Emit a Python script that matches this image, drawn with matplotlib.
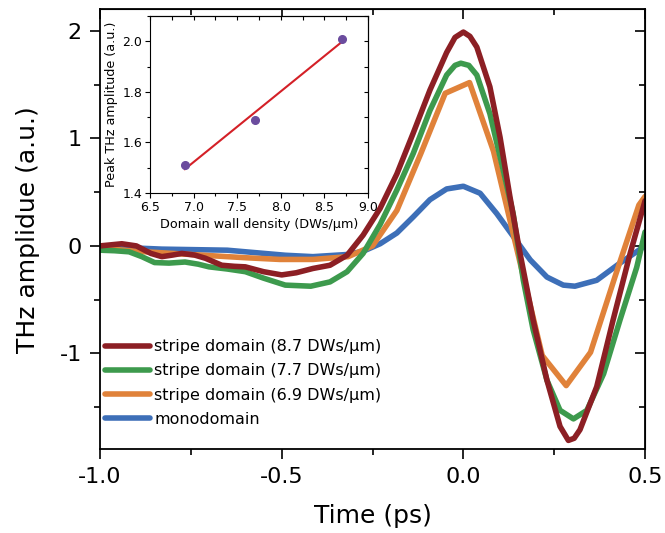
import numpy as np
import matplotlib
matplotlib.use('Agg')
import matplotlib.pyplot as plt
from matplotlib.ticker import MultipleLocator, FormatStrFormatter

# THz transients (time in ps, amplitude in a.u.)
t_red = [-1.0, -0.97, -0.94, -0.90, -0.86, -0.83, -0.80, -0.775, -0.74, -0.71,
         -0.665, -0.63, -0.60, -0.55, -0.50, -0.46, -0.414, -0.367, -0.32, -0.276,
         -0.229, -0.183, -0.138, -0.092, -0.046, -0.023, 0.0, 0.018, 0.037, 0.073,
         0.101, 0.128, 0.156, 0.192, 0.23, 0.266, 0.289, 0.305, 0.321, 0.367,
         0.412, 0.459, 0.5]
v_red = [0.0, 0.01, 0.02, 0.0, -0.07, -0.10, -0.085, -0.07, -0.085, -0.115,
         -0.18, -0.19, -0.195, -0.24, -0.27, -0.25, -0.21, -0.18, -0.087, 0.10,
         0.35, 0.67, 1.05, 1.45, 1.80, 1.94, 1.99, 1.95, 1.85, 1.48,
         1.01, 0.46, -0.07, -0.69, -1.25, -1.68, -1.81, -1.79, -1.71, -1.31,
         -0.69, -0.07, 0.42]

t_green = [-1.0, -0.96, -0.92, -0.885, -0.85, -0.81, -0.766, -0.73, -0.70, -0.65,
           -0.60, -0.55, -0.49, -0.42, -0.367, -0.32, -0.276, -0.229, -0.183, -0.138,
           -0.092, -0.046, -0.023, -0.007, 0.015, 0.037, 0.073, 0.11, 0.137, 0.165,
           0.192, 0.23, 0.266, 0.303, 0.34, 0.386, 0.431, 0.477, 0.5]
v_green = [-0.04, -0.045, -0.055, -0.10, -0.155, -0.16, -0.15, -0.17, -0.195, -0.215,
           -0.24, -0.30, -0.365, -0.375, -0.335, -0.24, -0.07, 0.20, 0.52, 0.86,
           1.26, 1.59, 1.68, 1.70, 1.68, 1.59, 1.23, 0.70, 0.30, -0.32,
           -0.78, -1.25, -1.53, -1.61, -1.53, -1.19, -0.69, -0.20, 0.13]

t_orange = [-1.0, -0.90, -0.80, -0.70, -0.60, -0.505, -0.414, -0.317, -0.25, -0.183,
            -0.117, -0.05, 0.017, 0.083, 0.15, 0.217, 0.283, 0.35, 0.417, 0.483, 0.5]
v_orange = [-0.02, -0.05, -0.07, -0.09, -0.11, -0.126, -0.126, -0.10, 0.0, 0.33,
            0.86, 1.42, 1.52, 0.88, -0.07, -1.02, -1.30, -0.99, -0.29, 0.38, 0.46]

t_blue = [-1.0, -0.90, -0.83, -0.65, -0.49, -0.414, -0.32, -0.276, -0.229, -0.183,
          -0.138, -0.092, -0.046, 0.0, 0.046, 0.092, 0.137, 0.184, 0.23, 0.275,
          0.307, 0.367, 0.431, 0.5]
v_blue = [0.0, -0.02, -0.03, -0.04, -0.087, -0.10, -0.08, -0.05, 0.02, 0.12,
          0.27, 0.43, 0.53, 0.555, 0.49, 0.30, 0.09, -0.13, -0.29, -0.365,
          -0.375, -0.32, -0.16, 0.0]

labels = ['stripe domain (8.7 DWs/\u03bcm)', 'stripe domain (7.7 DWs/\u03bcm)',
          'stripe domain (6.9 DWs/\u03bcm)', 'monodomain']
colors = ['#8c1f24', '#3d9a4d', '#e0823a', '#3d6fb8']

# inset: peak amplitude vs domain wall density
density = [6.9, 7.7, 8.7]
peak = [1.51, 1.69, 2.01]

fig = plt.figure(figsize=(6.65, 5.33), dpi=100)
ax = fig.add_axes([0.1504, 0.1576, 0.8196, 0.8246])

series = [(t_red, v_red), (t_green, v_green), (t_orange, v_orange), (t_blue, v_blue)]
# blue first so the stripe-domain curves sit on top
for i in [3, 2, 1, 0]:
    t, v = series[i]
    ax.plot(t, v, color=colors[i], lw=4.0, label=labels[i], solid_capstyle='round',
            solid_joinstyle='round')

ax.set_xlim(-1.0, 0.5)
ax.set_ylim(-1.89, 2.2)
ax.xaxis.set_major_locator(MultipleLocator(0.5))
ax.xaxis.set_minor_locator(MultipleLocator(0.25))
ax.yaxis.set_major_locator(MultipleLocator(1))
ax.yaxis.set_minor_locator(MultipleLocator(0.5))
ax.xaxis.set_major_formatter(FormatStrFormatter('%.1f'))
ax.yaxis.set_major_formatter(FormatStrFormatter('%d'))
ax.tick_params(which='major', direction='out', length=7, width=1.2, labelsize=16, pad=6)
ax.tick_params(which='minor', direction='out', length=4, width=1.2)
for s in ax.spines.values():
    s.set_linewidth(1.3)

top = ax.secondary_xaxis('top')
top.xaxis.set_major_locator(MultipleLocator(0.5))
top.xaxis.set_minor_locator(MultipleLocator(0.25))
top.tick_params(which='both', direction='in', labeltop=False, width=1.2)
top.tick_params(which='major', length=7)
top.tick_params(which='minor', length=4)
right = ax.secondary_yaxis('right')
right.yaxis.set_major_locator(MultipleLocator(1))
right.yaxis.set_minor_locator(MultipleLocator(0.5))
right.tick_params(which='both', direction='in', labelright=False, width=1.2)
right.tick_params(which='major', length=7)
right.tick_params(which='minor', length=4)

ax.set_xlabel('Time (ps)', fontsize=18, labelpad=12)
ax.set_ylabel('THz amplidue (a.u.)', fontsize=18, labelpad=14)

h, l = ax.get_legend_handles_labels()
ax.legend(h[::-1], l[::-1], loc='lower left', bbox_to_anchor=(0.0, 0.04), frameon=False,
          fontsize=11.5, handlelength=2.8, handletextpad=0.3, labelspacing=0.57,
          borderaxespad=0.2, borderpad=0.1)

# inset
ins = fig.add_axes([0.2256, 0.6379, 0.3278, 0.3321])
ins.plot(density, peak, 'o', color='#6b4c9e', ms=5.5, zorder=3)
k, b = np.polyfit(density, peak, 1)
xf = np.array([density[0], density[-1]])
ins.plot(xf, k * xf + b, color='#d42027', lw=1.5)
ins.set_xlim(6.5, 9.0)
ins.set_ylim(1.4, 2.1)
ins.xaxis.set_major_locator(MultipleLocator(0.5))
ins.xaxis.set_minor_locator(MultipleLocator(0.25))
ins.yaxis.set_major_locator(MultipleLocator(0.2))
ins.yaxis.set_minor_locator(MultipleLocator(0.1))
ins.tick_params(which='both', direction='out', labelsize=9, width=0.8, pad=2)
ins.tick_params(which='major', length=3.5)
ins.tick_params(which='minor', length=2)
ins_top = ins.secondary_xaxis('top')
ins_top.xaxis.set_major_locator(MultipleLocator(0.5))
ins_top.xaxis.set_minor_locator(MultipleLocator(0.25))
ins_top.tick_params(which='both', direction='in', labeltop=False, width=0.8, length=3)
ins_right = ins.secondary_yaxis('right')
ins_right.yaxis.set_major_locator(MultipleLocator(0.2))
ins_right.yaxis.set_minor_locator(MultipleLocator(0.1))
ins_right.tick_params(which='both', direction='in', labelright=False, width=0.8, length=3)
ins.set_xlabel('Domain wall density (DWs/\u03bcm)', fontsize=9.2, labelpad=3)
ins.set_ylabel('Peak THz amplitude (a.u.)', fontsize=9.2, labelpad=3)

fig.savefig('out.png', dpi=100)
